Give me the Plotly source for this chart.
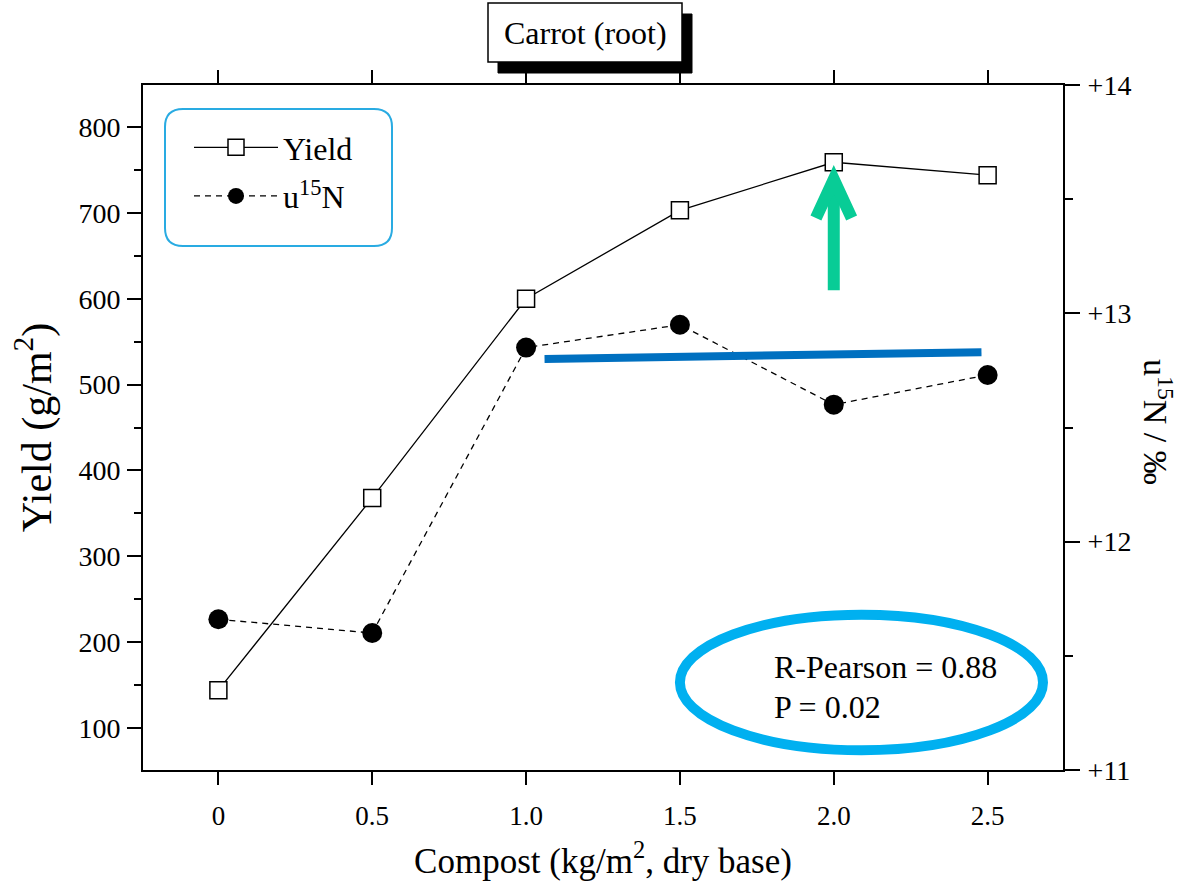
import plotly.graph_objects as go

# ---- data ----
compost = [0, 0.5, 1.0, 1.5, 2.0, 2.5]
yield_vals = [144, 368, 600, 703, 759, 744]
d15n_vals = [11.66, 11.60, 12.85, 12.95, 12.60, 12.73]
trend_x = [1.06, 2.48]
trend_y = [12.80, 12.83]
x_ticks = [0, 0.5, 1.0, 1.5, 2.0, 2.5]
x_ticklabels = ["0", "0.5", "1.0", "1.5", "2.0", "2.5"]
y2_ticks = [11, 12, 13, 14]
y2_ticklabels = ["+11", "+12", "+13", "+14"]

FONT = "Liberation Serif"
W, H = 1184, 885
# plot area in page pixels: x 143..1063, y 85..770
L, T, R, B = 143, 85, 1184 - 1063, 885 - 770
PW, PH = W - L - R, H - T - B


def px(x):
    return (x - L) / PW


def py(y):
    return (H - B - y) / PH


fig = go.Figure()

fig.add_trace(go.Scatter(
    x=compost, y=yield_vals, name="Yield", mode="lines+markers",
    line=dict(color="black", width=1.3),
    marker=dict(symbol="square", size=17, color="white", line=dict(color="black", width=1.5)),
    legendgroup="a",
))
fig.add_trace(go.Scatter(
    x=compost, y=d15n_vals, name="u<sup>15</sup>N", mode="lines+markers", yaxis="y2",
    line=dict(color="black", width=1.3, dash="6px,5px"),
    marker=dict(symbol="circle", size=20, color="black"),
    legendgroup="b",
))
fig.add_trace(go.Scatter(
    x=trend_x, y=trend_y, mode="lines", yaxis="y2", showlegend=False,
    line=dict(color="#0070C0", width=8),
))

shapes = []
# legend rounded box
x0, x1, y0, y1, r = 165, 392, 109, 246, 18
path = (f"M {px(x0+r)},{py(y0)} L {px(x1-r)},{py(y0)} Q {px(x1)},{py(y0)} {px(x1)},{py(y0+r)} "
        f"L {px(x1)},{py(y1-r)} Q {px(x1)},{py(y1)} {px(x1-r)},{py(y1)} "
        f"L {px(x0+r)},{py(y1)} Q {px(x0)},{py(y1)} {px(x0)},{py(y1-r)} "
        f"L {px(x0)},{py(y0+r)} Q {px(x0)},{py(y0)} {px(x0+r)},{py(y0)} Z")
shapes.append(dict(type="path", xref="paper", yref="paper", path=path,
                   line=dict(color="#29ABE2", width=2), fillcolor="rgba(0,0,0,0)"))
# title shadow + box
shapes.append(dict(type="rect", xref="paper", yref="paper", x0=px(498), x1=px(692), y0=py(73), y1=py(14),
                   fillcolor="black", line=dict(color="black", width=1)))
shapes.append(dict(type="rect", xref="paper", yref="paper", x0=px(488), x1=px(682), y0=py(62), y1=py(3),
                   fillcolor="white", line=dict(color="black", width=1.5)))
# ellipse
shapes.append(dict(type="circle", xref="x", yref="y", x0=1.50, x1=2.68, y0=74, y1=232,
                   line=dict(color="#00B0F0", width=10)))
# green arrow
AX = 2.0
GREEN = "#08CC96"
shapes.append(dict(type="line", xref="x", yref="y", x0=AX, x1=AX, y0=610, y1=736,
                   line=dict(color=GREEN, width=12)))
shapes.append(dict(type="path", xref="x", yref="y",
                   path=f"M {AX-0.058},694 L {AX},739 L {AX+0.058},694",
                   line=dict(color=GREEN, width=12)))

annotations = [
    dict(text="Carrot (root)", xref="paper", yref="paper", x=px(585), y=py(33),
         xanchor="center", yanchor="middle",
         showarrow=False, font=dict(family=FONT, size=32, color="black")),
    dict(text="u<sup>15</sup>N / ‰", xref="paper", yref="paper", x=px(1158), y=py(422),
         xanchor="center", yanchor="middle",
         showarrow=False, textangle=90, font=dict(family=FONT, size=34, color="black")),
    dict(text="R-Pearson = 0.88", xref="paper", yref="paper", x=px(772), y=py(667),
         xanchor="left", yanchor="middle", showarrow=False, font=dict(family=FONT, size=32, color="black")),
    dict(text="P = 0.02", xref="paper", yref="paper", x=px(772), y=py(707),
         xanchor="left", yanchor="middle", showarrow=False, font=dict(family=FONT, size=32, color="black")),
]

fig.update_layout(
    width=W, height=H,
    margin=dict(l=L, r=R, t=T, b=B, autoexpand=False),
    paper_bgcolor="white", plot_bgcolor="white",
    font=dict(family=FONT, color="black"),
    shapes=shapes, annotations=annotations,
    showlegend=True,
    legend=dict(x=px(189), y=py(120), xanchor="left", yanchor="top",
                bgcolor="rgba(0,0,0,0)", borderwidth=0,
                font=dict(family=FONT, size=32, color="black"),
                itemwidth=84, traceorder="grouped", tracegroupgap=4),
    xaxis=dict(range=[-0.245, 2.745], tickvals=x_ticks, ticktext=x_ticklabels, automargin=False,
               showline=True, linecolor="black", linewidth=2, mirror="ticks",
               ticks="outside", ticklen=13, tickwidth=2, tickcolor="black",
               ticklabelstandoff=8,
               showgrid=False, zeroline=False,
               tickfont=dict(family=FONT, size=27),
               title=dict(text="Compost (kg/m<sup>2</sup>, dry base)", font=dict(family=FONT, size=35), standoff=18)),
    yaxis=dict(range=[51, 849], dtick=100, tick0=0, automargin=False,
               showline=True, linecolor="black", linewidth=2,
               ticks="outside", ticklen=14, tickwidth=2, tickcolor="black",
               ticklabelstandoff=1,
               minor=dict(dtick=50, tick0=0, ticks="outside", ticklen=7, tickwidth=2, tickcolor="black", showgrid=False),
               showgrid=False, zeroline=False,
               tickfont=dict(family=FONT, size=28),
               title=dict(text="Yield (g/m<sup>2</sup>)", font=dict(family=FONT, size=42), standoff=14)),
    yaxis2=dict(range=[11, 14], overlaying="y", side="right", tickvals=y2_ticks, ticktext=y2_ticklabels,
                automargin=False,
                showline=True, linecolor="black", linewidth=2,
                ticks="outside", ticklen=15, tickwidth=2, tickcolor="black",
                ticklabelstandoff=2,
                minor=dict(dtick=0.5, tick0=11, ticks="outside", ticklen=8, tickwidth=2, tickcolor="black", showgrid=False),
                showgrid=False, zeroline=False,
                tickfont=dict(family=FONT, size=28)),
)

fig.write_html("out.html", config={"displayModeBar": False},
               post_script="document.body.style.margin='0';document.body.style.overflow='hidden';")
